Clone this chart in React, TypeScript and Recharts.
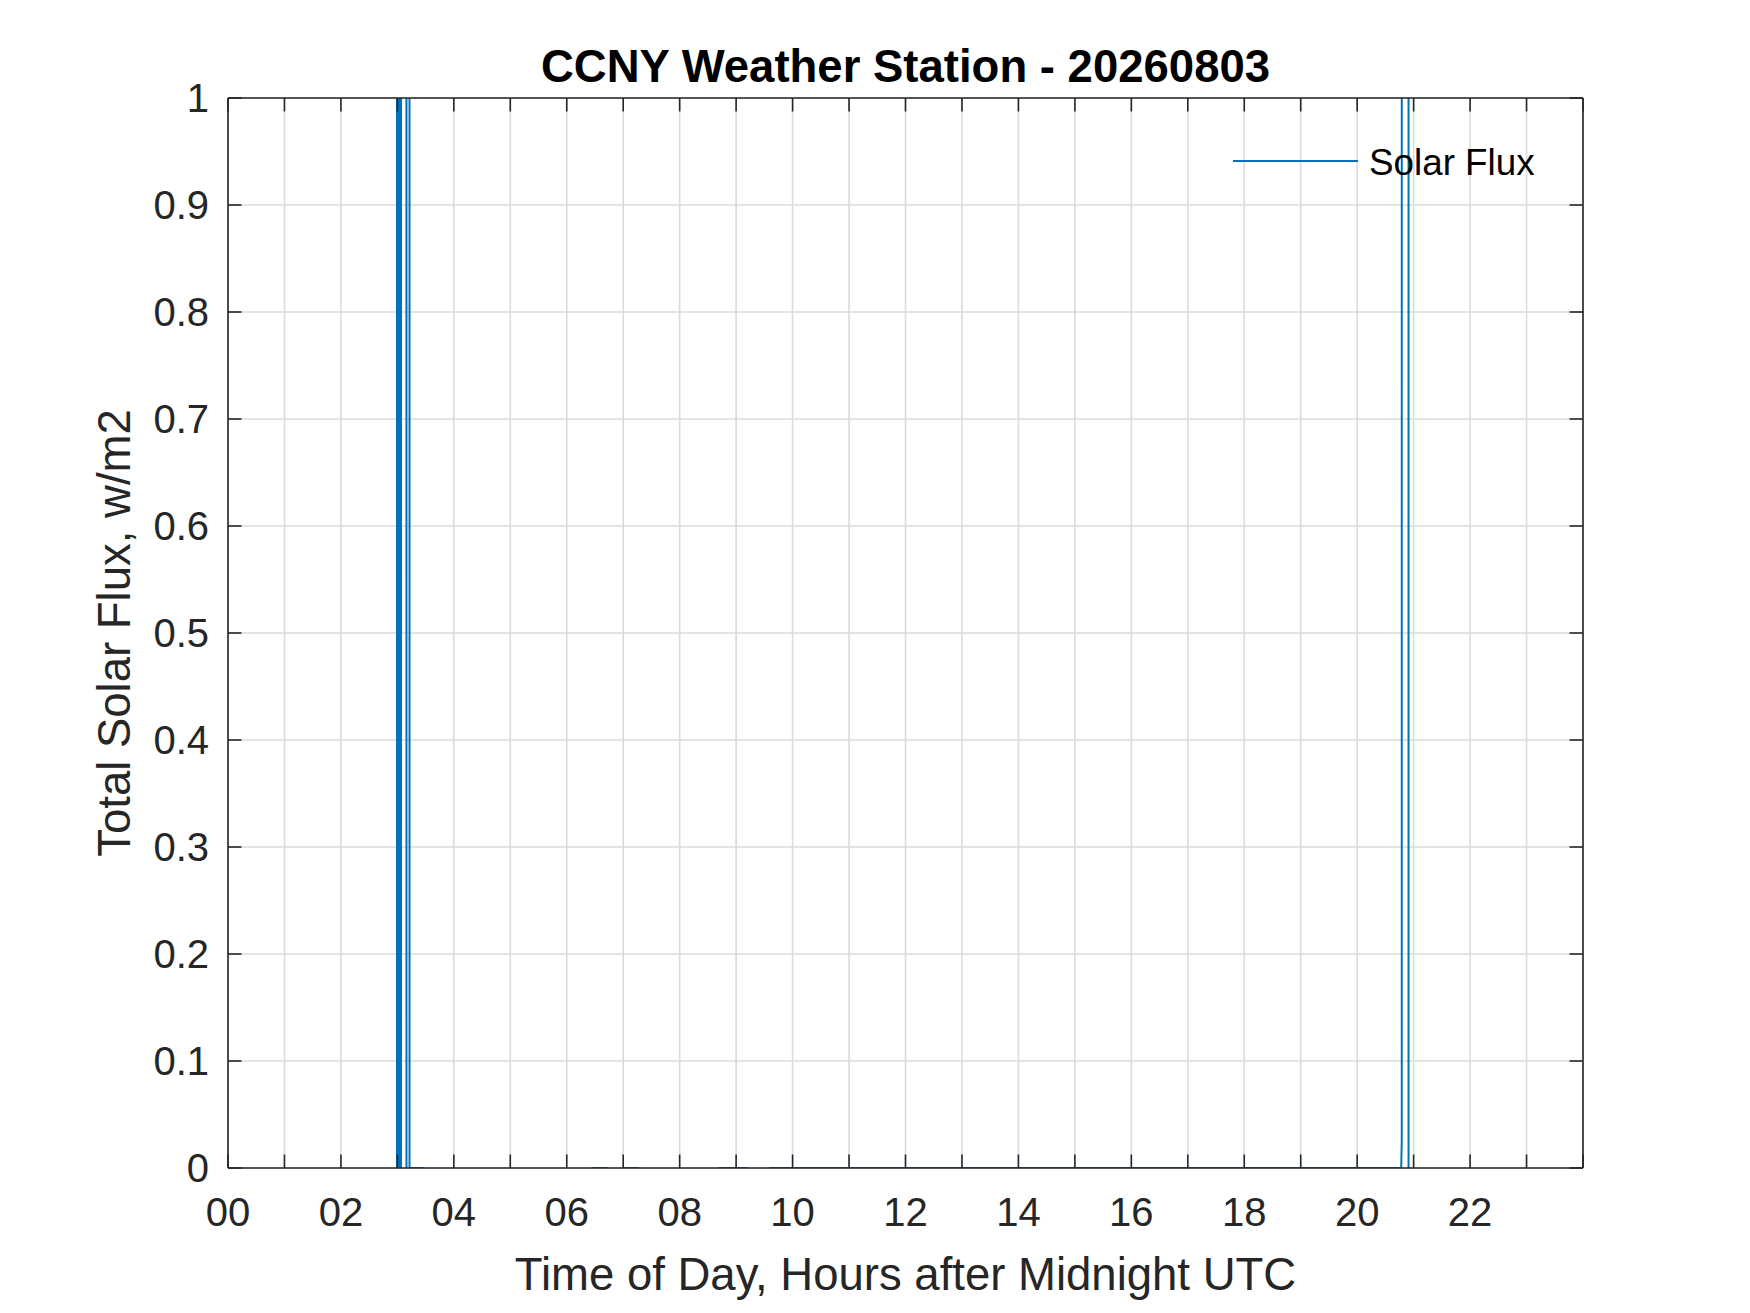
import React from 'react'
import { LineChart, Line, XAxis, YAxis, CartesianGrid } from 'recharts'

// time of day (hours after midnight UTC) and total solar flux (w/m2)
const hours = [
  0, 2.98, 2.993, 3.01, 3.029, 3.064, 3.1, 3.161, 3.19, 3.215, 3.45, 3.47,
  6.45, 6.47, 6.71, 6.73, 7.01, 7.03, 7.26, 7.28, 8.69, 8.71, 9.19, 9.21,
  9.58, 9.6, 20.78, 20.79, 20.8, 20.9, 20.91,
]
const flux = [
  -0.02, -0.02, 0, 90, 0, 0, 90, 0, 90, 0, 0, -0.02,
  -0.02, 0, 0, -0.02, -0.02, 0, 0, -0.02, -0.02, 0, 0, -0.02,
  -0.02, 0, 0, 0.025, 90, 90, 0,
]

const hourTicks = [0, 1, 2, 3, 4, 5, 6, 7, 8, 9, 10, 11, 12, 13, 14, 15, 16, 17, 18, 19, 20, 21, 22, 23, 24]
const hourLabelTicks = [0, 2, 4, 6, 8, 10, 12, 14, 16, 18, 20, 22]
const fluxTicks = [0, 0.1, 0.2, 0.3, 0.4, 0.5, 0.6, 0.7, 0.8, 0.9, 1]

const TITLE = 'CCNY Weather Station - 20260803'
const X_LABEL = 'Time of Day, Hours after Midnight UTC'
const Y_LABEL = 'Total Solar Flux, w/m2'
const SERIES_NAME = 'Solar Flux'

const LINE_COLOR = '#0072BD'
const AXIS_COLOR = '#262626'
const GRID_COLOR = '#dbdbdb'
const FONT = '"Liberation Sans", Arial, Helvetica, sans-serif'

const W = 1750
const H = 1313
const MARGIN = { top: 98, right: 167, bottom: 0, left: 0 }

const data = hours.map((h, i) => ({ hour: h, flux: flux[i] }))

const pad2 = (v: number): string => String(v).padStart(2, '0')
const noLabel = (): string => ''

export default function App(): JSX.Element {
  const axisLine = { stroke: AXIS_COLOR, strokeWidth: 1.6 }
  const tickLine = { stroke: AXIS_COLOR, strokeWidth: 1.6 }
  const tickText = { fill: AXIS_COLOR, fontSize: 40, fontFamily: FONT }

  return (
    <div style={{ position: 'absolute', left: 0, top: 0, width: W, height: H, background: '#fff', fontFamily: FONT }}>
      <LineChart width={W} height={H} data={data} margin={MARGIN}>
        <CartesianGrid xAxisId="xb" yAxisId="yl" stroke={GRID_COLOR} strokeWidth={1.6} />

        {/* labelled axes, no tick marks */}
        <XAxis
          xAxisId="x"
          dataKey="hour"
          type="number"
          domain={[0, 24]}
          allowDataOverflow
          ticks={hourLabelTicks}
          interval={0}
          tickFormatter={pad2}
          height={145}
          axisLine={false}
          tickLine={false}
          tickSize={0}
          tickMargin={30}
          tick={tickText}
          label={{ value: X_LABEL, position: 'insideBottom', offset: 23, fill: AXIS_COLOR, fontSize: 45.5, fontFamily: FONT }}
        />
        <YAxis
          yAxisId="y"
          type="number"
          domain={[0, 1]}
          allowDataOverflow
          ticks={fluxTicks}
          interval={0}
          tickFormatter={(v: number) => String(v)}
          width={228}
          axisLine={false}
          tickLine={false}
          tickSize={0}
          tickMargin={19}
          tick={tickText}
          label={{ value: Y_LABEL, angle: -90, position: 'center', fill: AXIS_COLOR, fontSize: 45.5, fontFamily: FONT }}
        />

        {/* box with inward ticks on all four sides */}
        <XAxis xAxisId="xb" dataKey="hour" type="number" domain={[0, 24]} allowDataOverflow ticks={hourTicks} interval={0}
          orientation="bottom" mirror tickFormatter={noLabel} tickSize={13.5} axisLine={axisLine} tickLine={tickLine} />
        <XAxis xAxisId="xt" dataKey="hour" type="number" domain={[0, 24]} allowDataOverflow ticks={hourTicks} interval={0}
          orientation="top" mirror tickFormatter={noLabel} tickSize={13.5} axisLine={axisLine} tickLine={tickLine} />
        <YAxis yAxisId="yl" type="number" domain={[0, 1]} allowDataOverflow ticks={fluxTicks} interval={0}
          orientation="left" mirror tickFormatter={noLabel} tickSize={13.5} axisLine={axisLine} tickLine={tickLine} />
        <YAxis yAxisId="yr" type="number" domain={[0, 1]} allowDataOverflow ticks={fluxTicks} interval={0}
          orientation="right" mirror tickFormatter={noLabel} tickSize={13.5} axisLine={axisLine} tickLine={tickLine} />

        <Line
          xAxisId="x"
          yAxisId="y"
          type="linear"
          dataKey="flux"
          name={SERIES_NAME}
          stroke={LINE_COLOR}
          strokeWidth={2}
          dot={false}
          activeDot={false}
          isAnimationActive={false}
        />
      </LineChart>

      {/* title and legend overlay */}
      <svg width={W} height={H} style={{ position: 'absolute', left: 0, top: 0, pointerEvents: 'none' }}>
        <text x={905.5} y={82} textAnchor="middle" fontSize={45.5} fontWeight="bold" fill="#000" fontFamily={FONT}>
          {TITLE}
        </text>
        <line x1={1233} y1={161} x2={1358} y2={161} stroke={LINE_COLOR} strokeWidth={2} />
        <text x={1369} y={175} fontSize={36.8} fill="#000" fontFamily={FONT}>
          {SERIES_NAME}
        </text>
      </svg>
    </div>
  )
}
